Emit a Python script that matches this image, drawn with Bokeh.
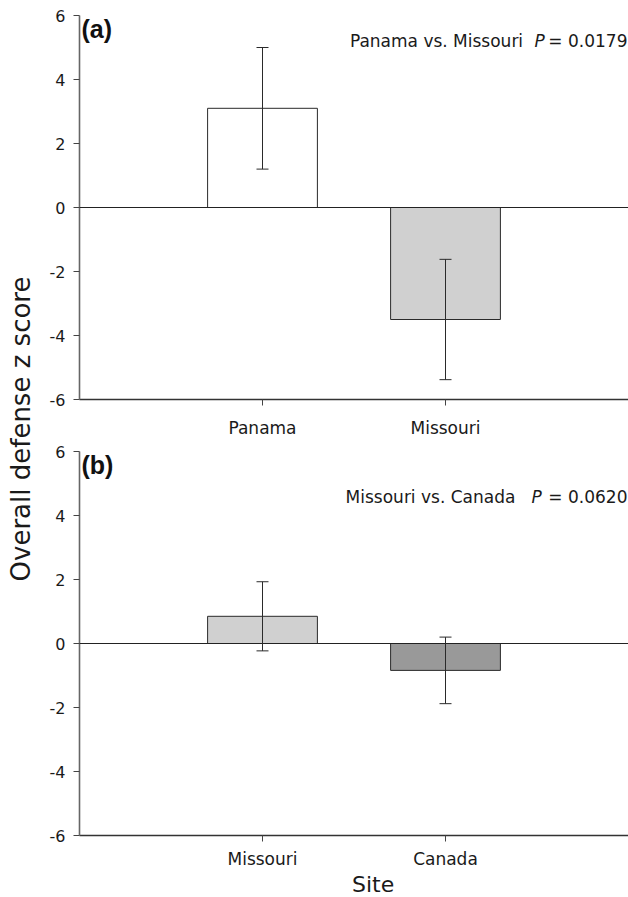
import math
from bokeh.plotting import figure
from bokeh.models import ColumnDataSource, Whisker, TeeHead, Span, Label, FixedTicker
from bokeh.layouts import row, column
from bokeh.embed import file_html
from bokeh.resources import INLINE

# ---------------- data ----------------
sites_a = ["Panama", "Missouri"]
means_a = [3.1, -3.5]
se_a = [1.9, 1.88]
colors_a = ["#ffffff", "#d0d0d0"]

sites_b = ["Missouri", "Canada"]
means_b = [0.85, -0.84]
se_b = [1.08, 1.04]
colors_b = ["#d0d0d0", "#999999"]

y_ticks = [-6, -4, -2, 0, 2, 4, 6]
panel_labels = ["(a)", "(b)"]
comparisons = ["Panama vs. Missouri", "Missouri vs. Canada"]
p_values = ["0.0179", "0.0620"]
y_label = "Overall defense z score"
x_label = "Site"

FONT = "DejaVu Sans"
TXT = "#1a1a1a"


def blank_fig(width, height):
    f = figure(width=width, height=height, x_range=(0, 1), y_range=(0, 1),
               toolbar_location=None, output_backend="svg", min_border=0,
               x_axis_type=None, y_axis_type=None)
    f.outline_line_color = None
    f.grid.visible = False
    return f


def make_panel(sites, means, se, colors, plabel, comp, pval, height, top, bottom,
               label_standoff, plab_dy, comp_dy, comp_dx, p_dx, pv_dx):
    n = len(sites)
    xs = list(range(1, n + 1))
    src = ColumnDataSource(dict(
        x=xs, top=means, color=colors,
        upper=[m + e for m, e in zip(means, se)],
        lower=[m - e for m, e in zip(means, se)],
    ))
    p = figure(width=590, height=height, x_range=(0, n + 1), y_range=(y_ticks[0], y_ticks[-1]),
               toolbar_location=None, output_backend="svg",
               min_border_left=41, min_border_right=0, min_border_top=top, min_border_bottom=bottom)
    p.outline_line_color = None
    p.grid.visible = False
    p.background_fill_color = "white"
    p.border_fill_color = "white"

    p.vbar(x="x", top="top", width=0.6, bottom=0, source=src, fill_color="color",
           line_color="#2a2a2a", line_width=1)
    p.add_layout(Span(location=0, dimension="width", line_color="#222222", line_width=1.2))
    w = Whisker(base="x", upper="upper", lower="lower", source=src, dimension="height",
                line_color="#2a2a2a", line_width=1, level="overlay",
                upper_head=TeeHead(size=12, line_color="#2a2a2a", line_width=1),
                lower_head=TeeHead(size=12, line_color="#2a2a2a", line_width=1))
    p.add_layout(w)

    ya = p.yaxis[0]
    ya.ticker = FixedTicker(ticks=y_ticks)
    ya.major_label_overrides = {t: str(t) for t in y_ticks}
    ya.major_tick_out = 6
    ya.major_tick_in = 0
    ya.minor_tick_line_color = None
    ya.axis_line_color = "#666666"
    ya.axis_line_width = 1.6
    ya.major_tick_line_color = "#444444"
    ya.major_label_text_font = FONT
    ya.major_label_text_font_size = "16px"
    ya.major_label_text_color = TXT
    ya.major_label_standoff = 8

    xa = p.xaxis[0]
    xa.ticker = FixedTicker(ticks=xs)
    xa.major_label_overrides = {x: s for x, s in zip(xs, sites)}
    xa.major_tick_out = 6
    xa.major_tick_in = 0
    xa.minor_tick_line_color = None
    xa.axis_line_color = "#333333"
    xa.axis_line_width = 1.3
    xa.major_tick_line_color = "#444444"
    xa.major_label_text_font = FONT
    xa.major_label_text_font_size = "17px"
    xa.major_label_text_color = TXT
    xa.major_label_standoff = label_standoff

    xmax = n + 1
    ymax = y_ticks[-1]
    p.add_layout(Label(x=0, y=ymax, x_offset=2, y_offset=plab_dy, text=plabel,
                       text_font="Liberation Sans", text_font_style="bold",
                       text_font_size="25px", text_color="#111111",
                       text_baseline="alphabetic", text_align="left"))
    p.add_layout(Label(x=xmax, y=ymax, x_offset=comp_dx, y_offset=comp_dy, text=comp,
                       text_font=FONT, text_font_size="17px", text_color=TXT,
                       text_baseline="alphabetic", text_align="center"))
    p.add_layout(Label(x=xmax, y=ymax, x_offset=p_dx, y_offset=comp_dy, text="P",
                       text_font=FONT, text_font_style="italic", text_font_size="17px",
                       text_color=TXT, text_baseline="alphabetic", text_align="left"))
    p.add_layout(Label(x=xmax, y=ymax, x_offset=pv_dx, y_offset=comp_dy, text="= " + pval,
                       text_font=FONT, text_font_size="17px", text_color=TXT,
                       text_baseline="alphabetic", text_align="right"))
    return p


pa = make_panel(sites_a, means_a, se_a, colors_a, panel_labels[0], comparisons[0], p_values[0],
                height=443, top=15, bottom=44, label_standoff=12, plab_dy=-13,
                comp_dy=-25, comp_dx=-192, p_dx=-94, pv_dx=-1)
pb = make_panel(sites_b, means_b, se_b, colors_b, panel_labels[1], comparisons[1], p_values[1],
                height=428, top=8, bottom=36, label_standoff=7, plab_dy=-13,
                comp_dy=-45, comp_dx=-198, p_dx=-97, pv_dx=-1)

# x-axis title strip under panel (b)
site_fig = blank_fig(590, 26)
site_fig.add_layout(Label(x=315.5 / 590, y=0.5, text=x_label, text_font=FONT,
                          text_font_size="22px", text_color=TXT,
                          text_baseline="alphabetic", text_align="center"))

# shared y-axis title strip
lab = blank_fig(38, 897)
lab.add_layout(Label(x=20 / 38, y=1 - 428.5 / 897, text=y_label, angle=math.pi / 2,
                     text_align="center", text_baseline="middle",
                     text_font=FONT, text_font_size="26px", text_color=TXT))

layout = row(lab, column(pa, pb, site_fig, spacing=0), spacing=0)

open("out.html", "w").write(file_html(layout, INLINE))
